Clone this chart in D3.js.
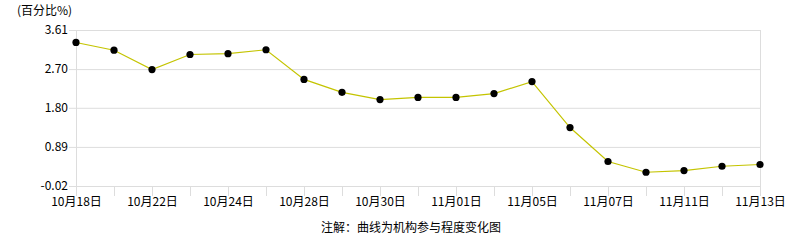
<!DOCTYPE html>
<html>
<head>
<meta charset="utf-8">
<script src="https://cdn.jsdelivr.net/npm/d3@7"></script>
<style>
  body { margin: 0; background: #fff; }
  svg text { font-family: "Noto Sans CJK SC", sans-serif; fill: #000; }
</style>
</head>
<body>
<svg id="chart" width="786" height="240"></svg>
<script>
// dates of the trading days
const dates = ['10月18日', '10月21日', '10月22日', '10月23日', '10月24日', '10月25日',
  '10月28日', '10月29日', '10月30日', '10月31日', '11月01日', '11月04日', '11月05日',
  '11月06日', '11月07日', '11月08日', '11月11日', '11月12日', '11月13日']
// institution participation, percent
const values = [3.32, 3.14, 2.69, 3.04, 3.06, 3.15, 2.46, 2.16, 1.99, 2.04, 2.04,
  2.13, 2.41, 1.34, 0.55, 0.30, 0.34, 0.44, 0.48]
const yTicks = [-0.02, 0.89, 1.80, 2.70, 3.61]
const shownDates = ['10月18日', '10月22日', '10月24日', '10月28日', '10月30日',
  '11月01日', '11月05日', '11月07日', '11月11日', '11月13日']

const svg = d3.select('#chart')
const plotLeft = 76, plotRight = 760, plotTop = 30, plotBottom = 186

const x = d3.scalePoint().domain(dates).range([plotLeft, plotRight])
const y = d3.scaleLinear().domain([-0.02, 3.61]).range([plotBottom, plotTop])

const grid = '#dddddd'

// horizontal gridlines + y labels
const yAxis = d3.axisLeft(y).tickValues(yTicks)
  .tickSize(-(plotRight - plotLeft + 7)).tickPadding(2)
  .tickFormat(d => d.toFixed(2))
svg.append('g')
  .attr('transform', 'translate(' + (plotLeft - 7) + ',0)')
  .call(yAxis)
  .call(g => g.select('.domain').remove())
  .call(g => g.selectAll('line').attr('stroke', grid))
  .call(g => g.selectAll('text').style('font-size', '12px').attr('x', -1))

// left and right border
svg.append('line')
  .attr('x1', plotLeft + 0.5).attr('x2', plotLeft + 0.5)
  .attr('y1', plotTop).attr('y2', plotBottom + 10)
  .attr('stroke', grid)
svg.append('line')
  .attr('x1', plotRight + 0.5).attr('x2', plotRight + 0.5)
  .attr('y1', plotTop).attr('y2', plotBottom)
  .attr('stroke', grid)

// x ticks below the axis
const xAxis = d3.axisBottom(x).tickSize(10).tickPadding(1)
  .tickFormat(d => shownDates.includes(d) ? d : '')
svg.append('g')
  .attr('transform', 'translate(0,' + plotBottom + ')')
  .call(xAxis)
  .call(g => g.select('.domain').remove())
  .call(g => g.selectAll('line').attr('stroke', grid))
  .call(g => g.selectAll('text').style('font-size', '12px'))

// line
const line = d3.line()
  .x((d, i) => x(dates[i]))
  .y(d => y(d))
svg.append('path')
  .datum(values)
  .attr('d', line)
  .attr('fill', 'none')
  .attr('stroke', '#c4c400')
  .attr('stroke-width', 1.2)

svg.selectAll('circle')
  .data(values)
  .enter()
  .append('circle')
  .attr('cx', (d, i) => x(dates[i]))
  .attr('cy', d => y(d))
  .attr('r', 3.6)
  .attr('fill', '#000')

// unit label
svg.append('text')
  .attr('x', 17).attr('y', 15)
  .style('font-size', '12px')
  .text('(百分比%)')

// footnote
svg.append('text')
  .attr('x', 411).attr('y', 232)
  .attr('text-anchor', 'middle')
  .style('font-size', '12px')
  .text('注解：曲线为机构参与程度变化图')
</script>
</body>
</html>
